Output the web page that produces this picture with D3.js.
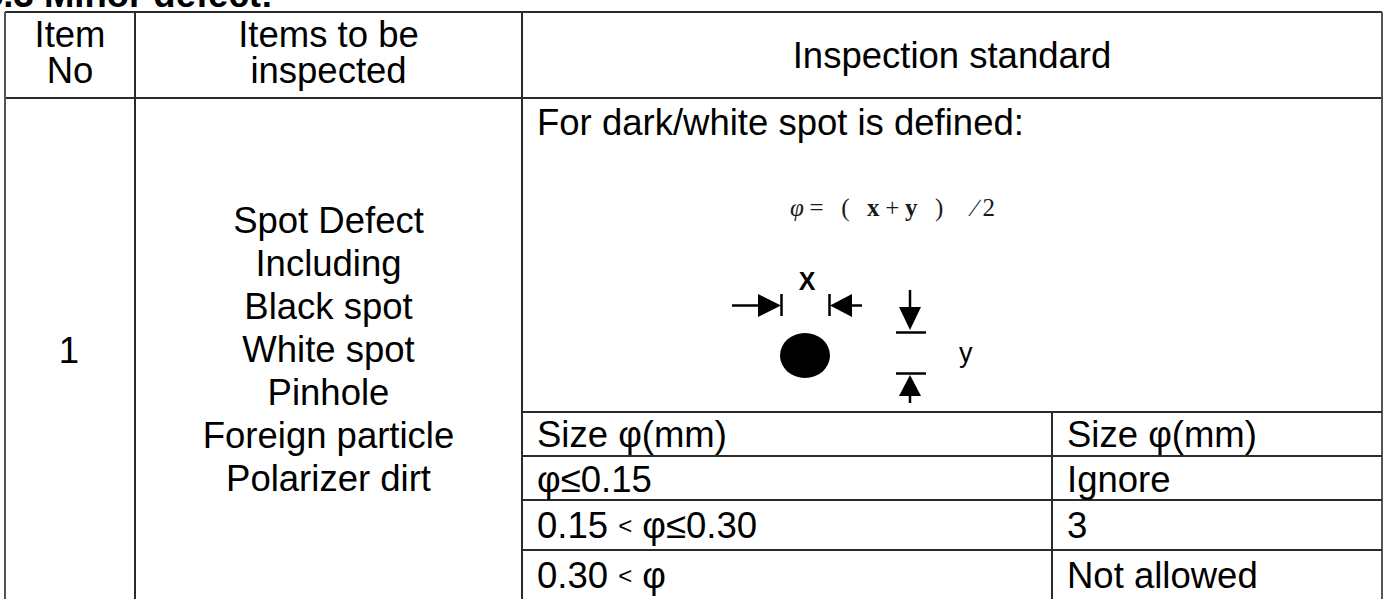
<!DOCTYPE html>
<html>
<head>
<meta charset="utf-8">
<script src="https://cdn.jsdelivr.net/npm/d3@7"></script>
<style>
  html, body { margin: 0; padding: 0; background: #fff; overflow: hidden; }
  text { font-family: "Liberation Sans", Arial, sans-serif; fill: #000; }
</style>
</head>
<body>
<div id="vis-svg"></div>
<script>
// table content
var title = "5.3 Minor defect:";
var headItemNo = ["Item", "No"];
var headItems = ["Items to be", "inspected"];
var headStandard = "Inspection standard";
var itemNo = "1";
var itemLines = ["Spot Defect", "Including", "Black spot", "White spot", "Pinhole", "Foreign particle", "Polarizer dirt"];
var defineText = "For dark/white spot is defined:";
var formulaParts = ["\u03c6", "= ", "( ", "x", "+", "y", " )", "  \u2215", "2"];
var sizeCol = [["Size \u03c6(mm)"], ["\u03c6\u22640.15"], ["0.15 ", "<", " \u03c6\u22640.30"], ["0.30 ", "<", " \u03c6"]];
var countCol = ["Size \u03c6(mm)", "Ignore", "3", "Not allowed"];

var width = 1389;
var height = 599;
var fs = 36.5;

var svg = d3.select("#vis-svg")
  .append("svg")
  .attr("width", width)
  .attr("height", height);

// column edges and row edges of the grid
var colX = [5, 135, 522, 1382];
var subColX = 1052;
var topY = 12, headBottom = 98;
var subRowTops = [412, 456, 500, 550];
var subBaseline = [447, 492, 538, 588];

// title, mostly cut off at the top
svg.append("text")
  .attr("x", -17).attr("y", 7)
  .style("font-size", fs + "px").style("font-weight", "bold")
  .text(title);

// grid lines
var grid = svg.append("g").attr("stroke", "#2b2b2b").attr("stroke-width", 2);
grid.append("line").attr("x1", colX[0]).attr("x2", colX[3]).attr("y1", topY).attr("y2", topY);
grid.append("line").attr("x1", colX[0]).attr("x2", colX[3]).attr("y1", headBottom).attr("y2", headBottom);
colX.forEach(function(x, i) {
  grid.append("line")
    .attr("x1", x).attr("x2", x).attr("y1", topY).attr("y2", height + 5)
    .attr("stroke", i === 0 || i === 3 ? "#555" : "#2b2b2b");
});
grid.selectAll("line.row").data(subRowTops).enter().append("line")
  .attr("class", "row")
  .attr("x1", colX[2]).attr("x2", colX[3])
  .attr("y1", function(d) { return d; }).attr("y2", function(d) { return d; });
grid.append("line").attr("x1", subColX).attr("x2", subColX).attr("y1", subRowTops[0]).attr("y2", height + 5);

// header
function centerLines(lines, cx, y0, step) {
  svg.append("g").selectAll("text").data(lines).enter().append("text")
    .attr("x", cx)
    .attr("y", function(d, i) { return y0 + i * step; })
    .attr("text-anchor", "middle")
    .style("font-size", fs + "px")
    .text(function(d) { return d; });
}
centerLines(headItemNo, (colX[0] + colX[1]) / 2, 47, 36);
centerLines(headItems, (colX[1] + colX[2]) / 2, 47, 36);
centerLines([headStandard], (colX[2] + colX[3]) / 2, 68, 0);

// item row
centerLines([itemNo], (colX[0] + colX[1]) / 2 - 1, 363, 0);
centerLines(itemLines, (colX[1] + colX[2]) / 2, 233, 43);

svg.append("text").attr("x", 537).attr("y", 135).style("font-size", fs + "px").text(defineText);

// formula
var ftext = svg.append("text")
  .attr("x", 790).attr("y", 216)
  .attr("textLength", 205).attr("lengthAdjust", "spacing")
  .style("font-family", "'Liberation Serif', 'DejaVu Serif', serif")
  .style("font-size", "25px")
  .style("fill", "#1a1a1a")
  .attr("xml:space", "preserve");
ftext.selectAll("tspan").data(formulaParts).enter().append("tspan")
  .style("font-style", function(d, i) { return i === 0 ? "italic" : null; })
  .style("font-weight", function(d) { return d === "x" || d === "y" ? "bold" : null; })
  .text(function(d) { return d; });

// spot diagram
var dg = svg.append("g").attr("fill", "#000").attr("stroke", "#000");
dg.append("ellipse").attr("cx", 805).attr("cy", 355.5).attr("rx", 25).attr("ry", 22.5).attr("stroke", "none");
// horizontal arrows
dg.append("line").attr("x1", 732).attr("x2", 760).attr("y1", 305.5).attr("y2", 305.5).attr("stroke-width", 2.5);
dg.append("path").attr("d", "M758,294 L758,317 L781,305.5 Z").attr("stroke", "none");
dg.append("line").attr("x1", 781.5).attr("x2", 781.5).attr("y1", 294).attr("y2", 316).attr("stroke-width", 2.5);
dg.append("line").attr("x1", 850).attr("x2", 862).attr("y1", 305.5).attr("y2", 305.5).attr("stroke-width", 2.5);
dg.append("path").attr("d", "M852,294 L852,317 L830,305.5 Z").attr("stroke", "none");
dg.append("line").attr("x1", 829.5).attr("x2", 829.5).attr("y1", 294).attr("y2", 316).attr("stroke-width", 2.5);
// vertical arrows
dg.append("line").attr("x1", 910).attr("x2", 910).attr("y1", 290).attr("y2", 309).attr("stroke-width", 2.5);
dg.append("path").attr("d", "M899,307 L921,307 L910,330 Z").attr("stroke", "none");
dg.append("line").attr("x1", 896).attr("x2", 926).attr("y1", 332.5).attr("y2", 332.5).attr("stroke-width", 2.5);
dg.append("line").attr("x1", 896).attr("x2", 926).attr("y1", 373.5).attr("y2", 373.5).attr("stroke-width", 2.5);
dg.append("path").attr("d", "M899,396 L921,396 L910,375 Z").attr("stroke", "none");
dg.append("line").attr("x1", 910).attr("x2", 910).attr("y1", 394).attr("y2", 403).attr("stroke-width", 2.5);
svg.append("text").attr("x", 807).attr("y", 290).attr("text-anchor", "middle").style("font-size", "25px").style("font-weight", "bold").text("X");
svg.append("text").attr("x", 959).attr("y", 362).style("font-size", "27px").text("y");

// size sub-table
var sizeText = svg.append("g").selectAll("text").data(sizeCol).enter().append("text")
  .attr("x", 537)
  .attr("y", function(d, i) { return subBaseline[i]; })
  .style("font-size", fs + "px");
sizeText.selectAll("tspan").data(function(d) { return d; }).enter().append("tspan")
  .style("font-size", function(d) { return d === "<" ? "24px" : null; })
  .attr("dy", function(d, i) { return d === "<" ? -4 : (i > 0 ? 4 : null); })
  .text(function(d) { return d; });

svg.append("g").selectAll("text").data(countCol).enter().append("text")
  .attr("x", 1067)
  .attr("y", function(d, i) { return subBaseline[i]; })
  .style("font-size", fs + "px")
  .text(function(d) { return d; });
</script>
</body>
</html>
